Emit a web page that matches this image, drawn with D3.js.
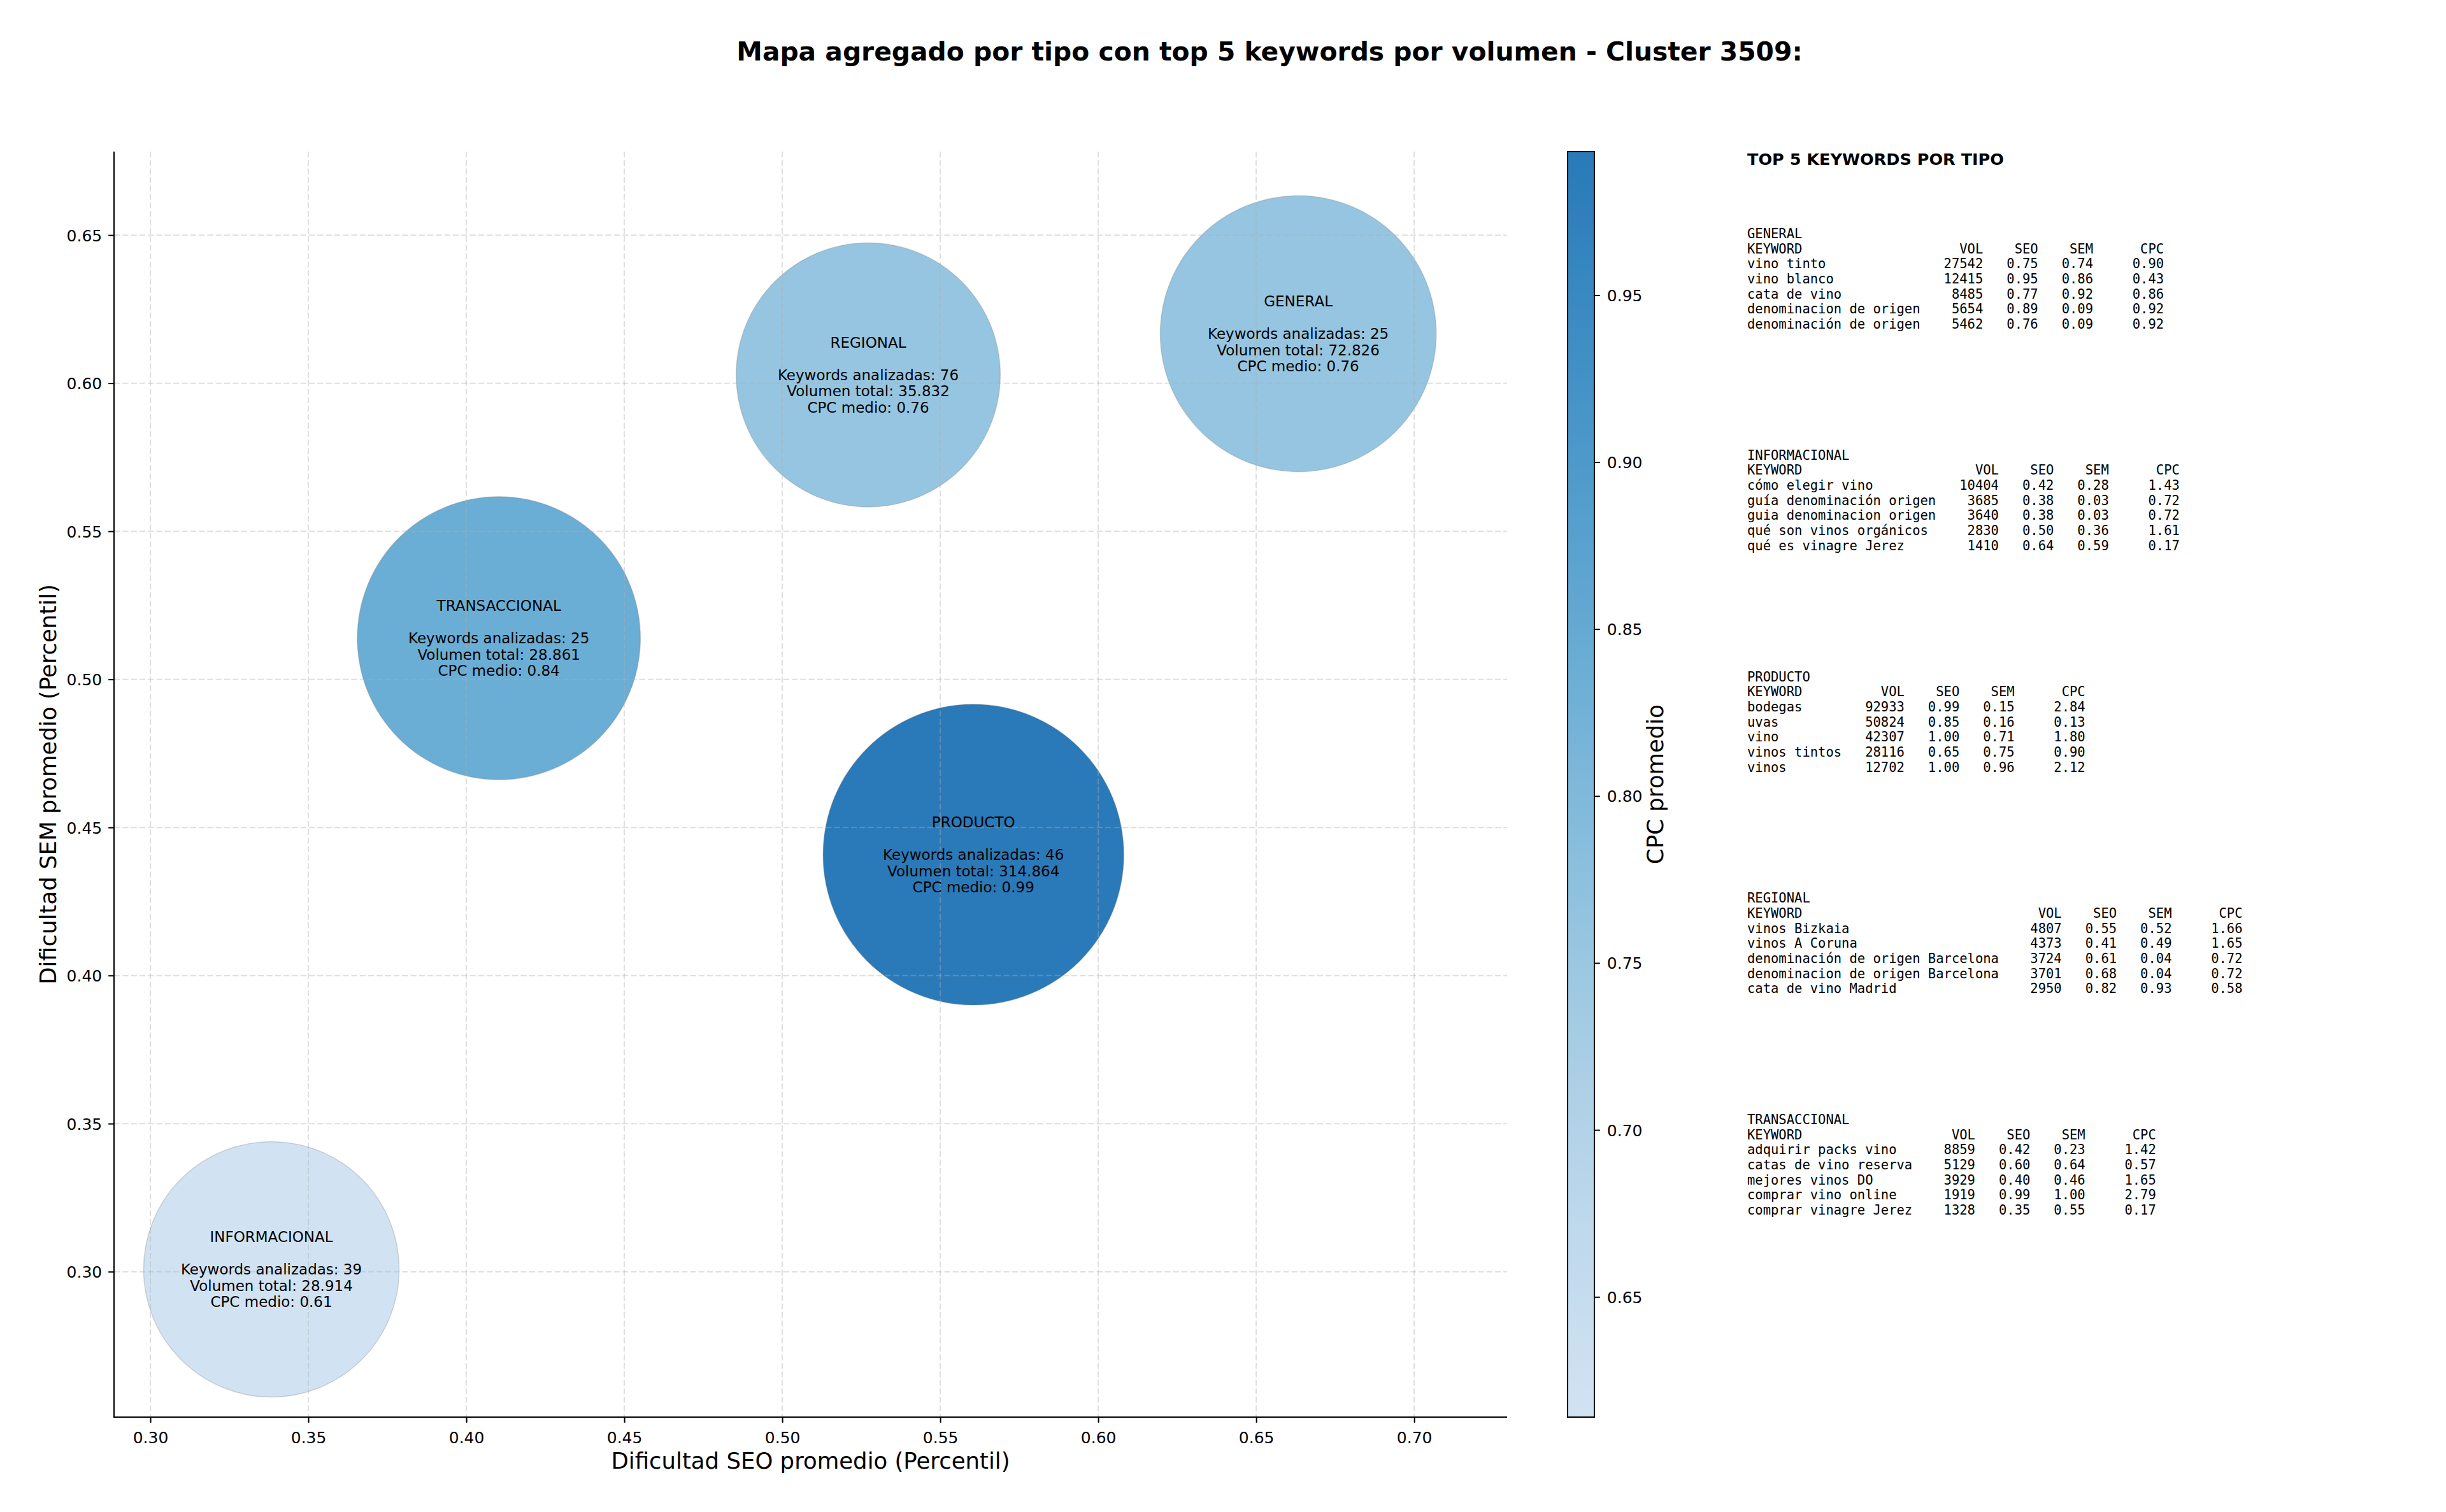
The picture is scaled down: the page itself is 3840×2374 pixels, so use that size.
<!DOCTYPE html>
<html><head><meta charset="utf-8">
<script src="https://cdn.jsdelivr.net/npm/d3@7"></script>
<style>
body{margin:0;background:#fff}
svg text{font-family:"DejaVu Sans",sans-serif;fill:#000}
.mono{font-family:"DejaVu Sans Mono",monospace;white-space:pre}
</style>
</head><body>
<svg id="chart" width="3840" height="2374"></svg>
<script>
// ---------- DATA ----------
const tipos = ["INFORMACIONAL", "TRANSACCIONAL", "REGIONAL", "GENERAL", "PRODUCTO"];
const seoPromedio = [0.3383, 0.4103, 0.5272, 0.6633, 0.5605];
const semPromedio = [0.3008, 0.5139, 0.6028, 0.6167, 0.4408];
const cpcMedio = [0.614, 0.84, 0.76, 0.76, 0.993];
const keywordsAnalizadas = [39, 25, 76, 25, 46];
const volumenTotal = [28914, 28861, 35832, 72826, 314864];
const tamanoMarcador = [19900, 24440, 21270, 23230, 27580]; // scatter "s" (pt^2)

const xTicks = [0.30, 0.35, 0.40, 0.45, 0.50, 0.55, 0.60, 0.65, 0.70];
const yTicks = [0.30, 0.35, 0.40, 0.45, 0.50, 0.55, 0.60, 0.65];
const cbTicks = [0.65, 0.70, 0.75, 0.80, 0.85, 0.90, 0.95];
const xLimites = [0.2885, 0.7294];
const yLimites = [0.2509, 0.6782];

const ordenTabla = ["GENERAL", "INFORMACIONAL", "PRODUCTO", "REGIONAL", "TRANSACCIONAL"];
const kwGeneral = ["vino tinto", "vino blanco", "cata de vino", "denominacion de origen", "denominación de origen"];
const volGeneral = [27542, 12415, 8485, 5654, 5462];
const seoGeneral = [0.75, 0.95, 0.77, 0.89, 0.76];
const semGeneral = [0.74, 0.86, 0.92, 0.09, 0.09];
const cpcGeneral = [0.90, 0.43, 0.86, 0.92, 0.92];

const kwInformacional = ["cómo elegir vino", "guía denominación origen", "guia denominacion origen", "qué son vinos orgánicos", "qué es vinagre Jerez"];
const volInformacional = [10404, 3685, 3640, 2830, 1410];
const seoInformacional = [0.42, 0.38, 0.38, 0.50, 0.64];
const semInformacional = [0.28, 0.03, 0.03, 0.36, 0.59];
const cpcInformacional = [1.43, 0.72, 0.72, 1.61, 0.17];

const kwProducto = ["bodegas", "uvas", "vino", "vinos tintos", "vinos"];
const volProducto = [92933, 50824, 42307, 28116, 12702];
const seoProducto = [0.99, 0.85, 1.00, 0.65, 1.00];
const semProducto = [0.15, 0.16, 0.71, 0.75, 0.96];
const cpcProducto = [2.84, 0.13, 1.80, 0.90, 2.12];

const kwRegional = ["vinos Bizkaia", "vinos A Coruna", "denominación de origen Barcelona", "denominacion de origen Barcelona", "cata de vino Madrid"];
const volRegional = [4807, 4373, 3724, 3701, 2950];
const seoRegional = [0.55, 0.41, 0.61, 0.68, 0.82];
const semRegional = [0.52, 0.49, 0.04, 0.04, 0.93];
const cpcRegional = [1.66, 1.65, 0.72, 0.72, 0.58];

const kwTransaccional = ["adquirir packs vino", "catas de vino reserva", "mejores vinos DO", "comprar vino online", "comprar vinagre Jerez"];
const volTransaccional = [8859, 5129, 3929, 1919, 1328];
const seoTransaccional = [0.42, 0.60, 0.40, 0.99, 0.35];
const semTransaccional = [0.23, 0.64, 0.46, 1.00, 0.55];
const cpcTransaccional = [1.42, 0.57, 1.65, 2.79, 0.17];

// ---------- BUILD ----------
const tablas = {
  GENERAL: [kwGeneral, volGeneral, seoGeneral, semGeneral, cpcGeneral],
  INFORMACIONAL: [kwInformacional, volInformacional, seoInformacional, semInformacional, cpcInformacional],
  PRODUCTO: [kwProducto, volProducto, seoProducto, semProducto, cpcProducto],
  REGIONAL: [kwRegional, volRegional, seoRegional, semRegional, cpcRegional],
  TRANSACCIONAL: [kwTransaccional, volTransaccional, seoTransaccional, semTransaccional, cpcTransaccional]
};
const burbujas = tipos.map((t, i) => ({
  tipo: t, seo: seoPromedio[i], sem: semPromedio[i], cpc: cpcMedio[i],
  kw: keywordsAnalizadas[i], vol: volumenTotal[i], s: tamanoMarcador[i]
}));

const svg = d3.select("#chart");
const L = 179, R = 2366, T = 238, B = 2225;
const x = d3.scaleLinear().domain(xLimites).range([L, R]);
const y = d3.scaleLinear().domain(yLimites).range([B, T]);
const tScale = d3.scaleLinear().domain(d3.extent(cpcMedio)).range([0.19, 0.72]);
const color = v => d3.interpolateBlues(tScale(v));
const PX = 2.52;
const maxS = d3.max(tamanoMarcador);
const r = d3.scaleSqrt().domain([0, maxS]).range([0, Math.sqrt(maxS / Math.PI) * PX]);
const es = d3.formatLocale({decimal: ",", thousands: ".", grouping: [3], currency: ["", "€"]});
const fmtVol = es.format(",d");
const f2 = d3.format(".2f");

// title
svg.append("text").attr("x", 1993).attr("y", 95).attr("text-anchor", "middle")
  .style("font-size", "40.8px").style("font-weight", "bold")
  .text("Mapa agregado por tipo con top 5 keywords por volumen - Cluster 3509:");

// bubbles
svg.append("g").selectAll("circle").data(burbujas).join("circle")
  .attr("cx", d => x(d.seo)).attr("cy", d => y(d.sem)).attr("r", d => r(d.s))
  .attr("fill", d => color(d.cpc))
  .attr("stroke", "#808080").attr("stroke-opacity", 0.3).attr("stroke-width", 1.5);

// grid (drawn above bubbles like matplotlib)
const grid = svg.append("g").attr("stroke", "#b0b0b0").attr("stroke-opacity", 0.4)
  .attr("stroke-width", 2).attr("stroke-dasharray", "9.3,4");
grid.selectAll(".gx").data(xTicks).join("line")
  .attr("x1", d => x(d)).attr("x2", d => x(d)).attr("y1", T).attr("y2", B);
grid.selectAll(".gy").data(yTicks).join("line")
  .attr("y1", d => y(d)).attr("y2", d => y(d)).attr("x1", L).attr("x2", R);

// bubble labels
const lab = svg.append("g").selectAll("g").data(burbujas).join("g");
lab.each(function(d) {
  const lines = [d.tipo, "", "Keywords analizadas: " + d.kw, "Volumen total: " + fmtVol(d.vol), "CPC medio: " + f2(d.cpc)];
  const g = d3.select(this);
  lines.forEach((t, i) => {
    g.append("text").attr("x", x(d.seo)).attr("y", y(d.sem) + (i - 2) * 25.4 + 8.2)
      .attr("text-anchor", "middle").style("font-size", "23px").text(t);
  });
});

// axes
const xAxis = d3.axisBottom(x).tickValues(xTicks).tickFormat(f2).tickSize(8.8).tickPadding(14);
const gx = svg.append("g").attr("transform", `translate(0,${B})`).call(xAxis);
gx.select(".domain").remove();
gx.selectAll("line").attr("stroke", "#000").attr("stroke-width", 2);
gx.selectAll("text").style("font-size", "25px").attr("fill", "#000");

const yAxis = d3.axisLeft(y).tickValues(yTicks).tickFormat(f2).tickSize(8.8).tickPadding(10);
const gy = svg.append("g").attr("transform", `translate(${L},0)`).call(yAxis);
gy.select(".domain").remove();
gy.selectAll("line").attr("stroke", "#000").attr("stroke-width", 2);
gy.selectAll("text").style("font-size", "25px").attr("fill", "#000").attr("dy", "0.36em");

// spines
svg.append("line").attr("x1", L).attr("x2", L).attr("y1", T).attr("y2", B + 1).attr("stroke", "#000").attr("stroke-width", 2);
svg.append("line").attr("x1", L - 1).attr("x2", R).attr("y1", B).attr("y2", B).attr("stroke", "#000").attr("stroke-width", 2);

// axis labels
svg.append("text").attr("x", (L + R) / 2).attr("y", 2306).attr("text-anchor", "middle")
  .style("font-size", "35.5px").text("Dificultad SEO promedio (Percentil)");
svg.append("text").attr("transform", `translate(88,${(T + B) / 2}) rotate(-90)`).attr("text-anchor", "middle")
  .style("font-size", "35.5px").text("Dificultad SEM promedio (Percentil)");

// colorbar
const cbL = 2461, cbR = 2503;
const cb = d3.scaleLinear().domain(d3.extent(cpcMedio)).range([B, T]);
const defs = svg.append("defs");
const grad = defs.append("linearGradient").attr("id", "cbgrad").attr("x1", 0).attr("x2", 0).attr("y1", 1).attr("y2", 0);
const dom = cb.domain();
d3.range(0, 1.0001, 0.02).forEach(p => {
  grad.append("stop").attr("offset", p).attr("stop-color", color(dom[0] + p * (dom[1] - dom[0])));
});
svg.append("rect").attr("x", cbL).attr("y", T).attr("width", cbR - cbL).attr("height", B - T)
  .attr("fill", "url(#cbgrad)").attr("stroke", "#000").attr("stroke-width", 2);
const cAxis = d3.axisRight(cb).tickValues(cbTicks).tickFormat(f2).tickSize(8.8).tickPadding(11);
const gc = svg.append("g").attr("transform", `translate(${cbR},0)`).call(cAxis);
gc.select(".domain").remove();
gc.selectAll("line").attr("stroke", "#000").attr("stroke-width", 2);
gc.selectAll("text").style("font-size", "25px").attr("fill", "#000").attr("dy", "0.36em");
svg.append("text").attr("transform", `translate(2611,${(T + B) / 2}) rotate(-90)`).attr("text-anchor", "middle")
  .style("font-size", "35.5px").text("CPC promedio");

// keyword panel
const PXL = 2743;
svg.append("text").attr("x", PXL).attr("y", 259.3).style("font-size", "25.5px").style("font-weight", "bold")
  .text("TOP 5 KEYWORDS POR TIPO");
const lh = 23.67;
ordenTabla.forEach((tipo, bi) => {
  const [kws, vols, seos, sems, cpcs] = tablas[tipo];
  const w = Math.max(7, d3.max(kws, k => k.length));
  const lines = [tipo,
    "KEYWORD".padEnd(w) + " " + "VOL".padStart(7) + " " + "SEO".padStart(6) + " " + "SEM".padStart(6) + " " + "CPC".padStart(8)];
  kws.forEach((k, i) => {
    lines.push(k.padEnd(w) + " " + String(vols[i]).padStart(7) + " " + f2(seos[i]).padStart(6) + " " +
      f2(sems[i]).padStart(6) + " " + f2(cpcs[i]).padStart(8));
  });
  const y0 = 366.7 + bi * 347.7;
  lines.forEach((t, li) => {
    svg.append("text").attr("class", "mono").attr("x", PXL).attr("y", y0 + li * lh + 7.4)
      .style("font-size", "20.5px").text(t);
  });
});
</script>
</body></html>
